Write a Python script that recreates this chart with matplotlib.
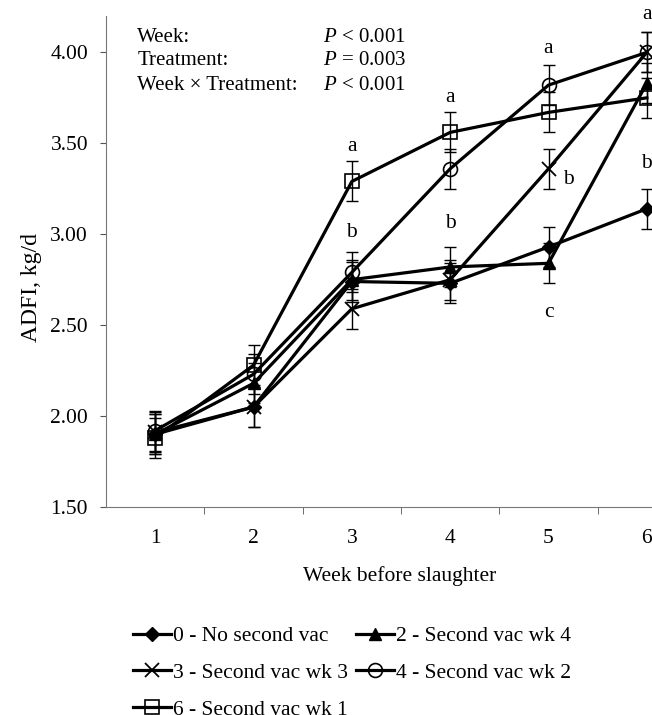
import matplotlib
matplotlib.use("Agg")
import matplotlib.pyplot as plt
import numpy as np

plt.rcParams['font.family'] = ['Liberation Serif', 'DejaVu Serif']
plt.rcParams['mathtext.fontset'] = 'custom'
plt.rcParams['mathtext.it'] = 'Liberation Serif:italic'
plt.rcParams['mathtext.rm'] = 'Liberation Serif'

weeks = [1, 2, 3, 4, 5, 6]
labels = ["0 - No second vac", "2 - Second vac wk 4", "3 - Second vac wk 3",
          "4 - Second vac wk 2", "6 - Second vac wk 1"]
no_second = [1.90, 2.05, 2.74, 2.73, 2.93, 3.14]
vac_wk4 = [1.90, 2.18, 2.75, 2.82, 2.84, 3.83]
vac_wk3 = [1.91, 2.05, 2.59, 2.75, 3.36, 4.00]
vac_wk2 = [1.92, 2.23, 2.79, 3.36, 3.82, 4.00]
vac_wk1 = [1.88, 2.28, 3.29, 3.56, 3.67, 3.75]
sem = 0.11

letters = [(3, 3.48, "a"), (3, 3.01, "b"), (4, 3.75, "a"), (4, 3.06, "b"),
           (5, 4.02, "a"), (5.2, 3.30, "b"), (5, 2.57, "c"),
           (6, 4.21, "a"), (6, 3.39, "b")]
stats_names = ["Week:", "Treatment:", "Week × Treatment:"]
stats_p = [r"$P$ < 0.001", r"$P$ = 0.003", r"$P$ < 0.001"]

series = [no_second, vac_wk4, vac_wk3, vac_wk2, vac_wk1]
styles = [
    dict(marker='D', ms=7.5, mfc='black', mec='black'),
    dict(marker='^', ms=9, mfc='black', mec='black'),
    dict(marker='x', ms=10, mfc='none', mec='black', mew=1.3),
    dict(marker='o', ms=10, mfc='none', mec='black', mew=1.2),
    dict(marker='s', ms=10, mfc='none', mec='black', mew=1.2),
]

FS = 15.5
fig = plt.figure(figsize=(6.52, 7.15), dpi=100)
W, H = 652, 715
left, right, bottom, top = 106, 696, 507, 16
ax = fig.add_axes([left / W, 1 - bottom / H, (right - left) / W, (bottom - top) / H])

handles = []
for vals, st, lab in zip(series, styles, labels):
    ax.errorbar(weeks, vals, yerr=sem, fmt='none', ecolor='black', elinewidth=1.0,
                capsize=4, capthick=1.0, zorder=2)
    h, = ax.plot(weeks, vals, color='black', lw=2.3, label=lab, zorder=3, **st)
    handles.append(h)

ax.set_xlim(0.5, 6.5)
ax.set_ylim(1.5, 4.2)
ax.set_yticks([1.5, 2.0, 2.5, 3.0, 3.5, 4.0])
ax.set_yticklabels(["1.50", "2.00", "2.50", "3.00", "3.50", "4.00"])
ax.set_xticks(weeks)
ax.set_xticks([1.5, 2.5, 3.5, 4.5, 5.5, 6.5], minor=True)
ax.tick_params(axis='x', which='major', length=0, labelsize=FS, pad=16)
ax.tick_params(axis='x', which='minor', length=5, direction='out', color='#555555')
ax.tick_params(axis='y', length=4.3, direction='out', labelsize=FS, color='#555555', pad=8.6)
for s in ['top', 'right']:
    ax.spines[s].set_visible(False)
for s in ['left', 'bottom']:
    ax.spines[s].set_color('#777777')
    ax.spines[s].set_linewidth(0.8)

ax.set_ylabel("ADFI, kg/d", fontsize=17)
ax.yaxis.set_label_coords((42 - left) / (right - left), (bottom - 287) / (bottom - top))
ax.set_xlabel("Week before slaughter", fontsize=FS)
ax.xaxis.set_label_coords((400 - left) / (right - left), -(566 - bottom) / (bottom - top))

for x, y, t in letters:
    ax.text(x, y, t, fontsize=FS, ha='center', va='center', clip_on=False)

ys = [4.082, 3.955, 3.818]
for y, n, p in zip(ys, stats_names, stats_p):
    ax.text(0.82, y, n, fontsize=15, ha='left', va='center')
    ax.text(2.71, y, p, fontsize=15, ha='left', va='center')

# legend filled row-wise: col 1 = entries 0, 2, 4 ; col 2 = entries 1, 3
order = [0, 2, 4, 1, 3]
fig.legend(handles=[handles[i] for i in order], loc='upper left',
           bbox_to_anchor=(133 / W, 1 - 626 / H),
           ncol=2, frameon=False, fontsize=FS, handlelength=1.77, handletextpad=0.1,
           columnspacing=0.35, labelspacing=0.78, borderpad=0, borderaxespad=0)

fig.savefig("out.png", dpi=100)
